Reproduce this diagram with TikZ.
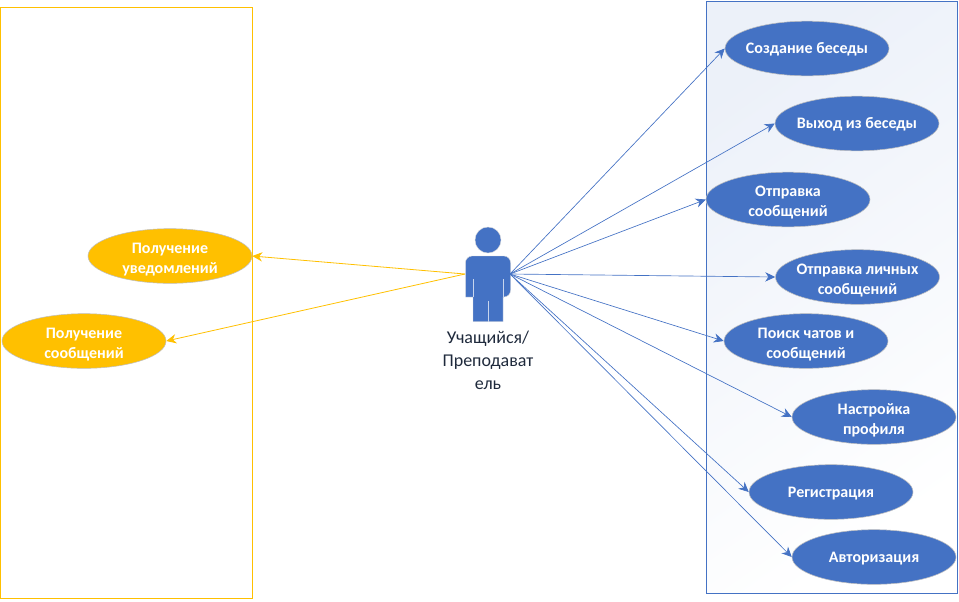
\documentclass[tikz,border=0pt]{standalone}
\usepackage{fontspec}
\setmainfont{Carlito}
\usepackage{xcolor}
\usetikzlibrary{arrows.meta, shapes.geometric}
\definecolor{azul}{HTML}{4472C4}
\definecolor{ambar}{HTML}{FFC000}
\definecolor{tinta}{HTML}{1F2A3C}
\newcommand{\tope}{\mbox{}\\[-2pt]}
\tikzset{
  every picture/.style={font=\normalfont, >=Stealth},
  caso/.style={ellipse, draw=black!25, line width=0.4pt, fill=azul, text=white, minimum width=123pt, minimum height=41pt,
               inner xsep=-6pt, inner ysep=-12pt, execute at begin node={\rule{0pt}{10pt}}, font=\fontsize{12}{15}\selectfont\bfseries, align=center},
  casoa/.style={caso, fill=ambar},
  flecha/.style={-{Stealth[length=7.5pt,width=7pt]}, line width=0.5pt, azul},
  flechaa/.style={-{Stealth[length=7.5pt,width=7pt]}, line width=0.6pt, ambar},
  marco/.style={draw=azul, line width=0.7pt, left color=azul!10, right color=white, shading angle=35},
  marcoa/.style={draw=ambar, line width=0.7pt, fill=white},
}
\begin{document}
\begin{tikzpicture}[x=0.75pt, y=-0.75pt]
  \useasboundingbox (0,0) rectangle (959,601);
  % frames
  \path[marcoa] (0.5,7) rectangle (252,598);
  \path[marco] (706,1) rectangle (957,593);
  % actor
  \fill[azul, draw=black!15, line width=0.3pt] (488,240) circle [radius=9.75pt];
  \fill[azul, draw=black!15, line width=0.3pt, rounded corners=5pt] (465.5,297) -- (465.5,256) -- (510.5,256) -- (510.5,297)
    [sharp corners] -- (503,297) -- (503,321.5) -- (473,321.5) -- (473,297) -- cycle;
  \draw[white!70!azul, line width=0.6pt] (473,279) -- (473,297) (503,279) -- (503,297) (488,301) -- (488,321.5);
  \coordinate (manod) at (510,274);
  \coordinate (manoi) at (465,274);
  \node[text=tinta, font=\fontsize{13.5}{17.2}\selectfont, align=center] (actor) at (488,360) {Учащийся/\\Преподават\\ель};
  % use cases
  \foreach \t/\x/\y [count=\i] in {Создание беседы/807/48.5, Выход из беседы/857/123.5, \tope Отправка\\сообщений/788/199.5,
      \tope Отправка личных\\сообщений/857.5/277, \tope Поиск чатов и\\сообщений/806/341, \tope Настройка\\профиля/874/417,
      Регистрация/831/492, Авторизация/874/557} {
    \node[caso] (c\i) at (\x,\y) {\t};
    \draw[flecha] (manod) -- (c\i.west);
  }
  \node[casoa] (n1) at (170,256) {\tope Получение\\уведомлений};
  \node[casoa] (n2) at (84,341) {\tope Получение\\сообщений};
  \draw[flechaa] (manoi) -- (n1.east);
  \draw[flechaa] (manoi) -- (n2.east);
\end{tikzpicture}
\end{document}
